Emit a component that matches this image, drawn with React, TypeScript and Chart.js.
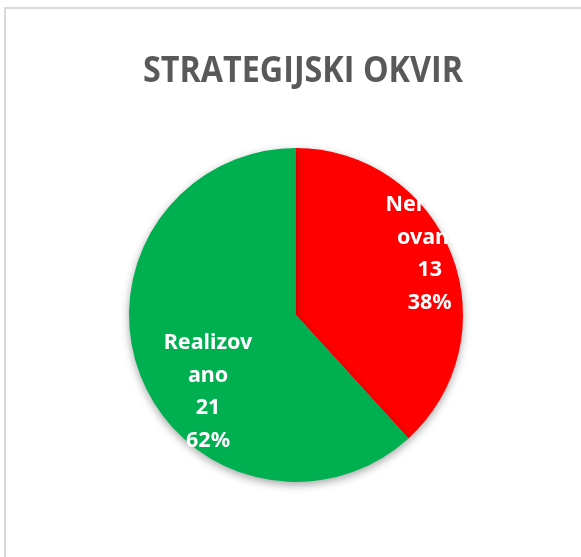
import React, { useEffect, useRef } from "react";
import { Chart, registerables } from "chart.js";

Chart.register(...registerables);

const titleText = "STRATEGIJSKI OKVIR";
const categories = ["Nerealizovano", "Realizovano"];
const values = [13, 21];
const colors = ["#FF0000", "#00B050"];

const TITLE_FONT = "'Open Sans', 'Noto Sans', sans-serif";
const LABEL_FONT = "'Noto Sans', 'Open Sans', sans-serif";

function wrapChars(s: string, n: number): string[] {
  const out: string[] = [];
  for (let i = 0; i < s.length; i += n) out.push(s.slice(i, i + n));
  return out;
}

const shadowPlugin = {
  id: "pieShadow",
  beforeDatasetsDraw(chart: any) {
    const ctx = chart.ctx;
    ctx.save();
    ctx.shadowColor = "rgba(0,0,0,0.35)";
    ctx.shadowBlur = 9;
    ctx.shadowOffsetX = 0;
    ctx.shadowOffsetY = 3;
  },
  afterDatasetsDraw(chart: any) {
    chart.ctx.restore();
  },
};

const labelPlugin = {
  id: "sliceLabels",
  afterDatasetsDraw(chart: any) {
    const ctx = chart.ctx;
    const meta = chart.getDatasetMeta(0);
    const data = chart.data.datasets[0].data as number[];
    const total = data.reduce((a, b) => a + b, 0);
    const place = [
      { t: 0.476, r: 0.88 },
      { t: 0.41, r: 0.7 },
    ];
    meta.data.forEach((arc: any, i: number) => {
      const p = place[i] || { t: 0.5, r: 0.65 };
      const a = arc.startAngle + p.t * (arc.endAngle - arc.startAngle);
      const x = arc.x + arc.outerRadius * p.r * Math.cos(a);
      const y = arc.y + arc.outerRadius * p.r * Math.sin(a);
      const lines = [
        ...wrapChars(String(chart.data.labels[i]), 8),
        String(data[i]),
        Math.round((data[i] / total) * 100) + "%",
      ];
      const lh = 32.5;
      ctx.save();
      ctx.fillStyle = "#FFFFFF";
      ctx.font = `bold 21.5px ${LABEL_FONT}`;
      ctx.textAlign = "center";
      ctx.textBaseline = "middle";
      lines.forEach((ln, k) => {
        ctx.fillText(ln, x, y + (k - (lines.length - 1) / 2) * lh);
      });
      ctx.restore();
    });
  },
};

const titlePlugin = {
  id: "customTitle",
  afterDraw(chart: any) {
    const ctx = chart.ctx;
    ctx.save();
    ctx.fillStyle = "#595959";
    ctx.font = `bold 35px ${TITLE_FONT}`;
    const w = ctx.measureText(titleText).width;
    const sx = 320 / w;
    ctx.textAlign = "center";
    ctx.textBaseline = "alphabetic";
    ctx.translate(303, 82);
    ctx.scale(sx, 1);
    ctx.fillText(titleText, 0, 0);
    ctx.restore();
  },
};

export default function App() {
  const ref = useRef<HTMLCanvasElement | null>(null);
  useEffect(() => {
    if (!ref.current) return;
    const chart = new Chart(ref.current, {
      type: "pie",
      data: {
        labels: categories,
        datasets: [
          {
            data: values,
            backgroundColor: colors,
            borderWidth: 0,
          },
        ],
      },
      options: {
        animation: false,
        responsive: false,
        maintainAspectRatio: false,
        layout: { padding: { left: 129, right: 118, top: 148, bottom: 75 } },
        plugins: {
          legend: { display: false },
          title: { display: false },
          tooltip: { enabled: false },
        },
      },
      plugins: [shadowPlugin, labelPlugin, titlePlugin],
    });
    return () => chart.destroy();
  }, []);
  return (
    <div
      style={{
        position: "fixed",
        left: 0,
        top: 0,
        width: 581,
        height: 557,
        background: "#fff",
        overflow: "hidden",
      }}
    >
      <div
        style={{
          position: "absolute",
          left: 4,
          top: 7,
          width: 620,
          height: 620,
          border: "2px solid #d9d9d9",
        }}
      />
      <canvas
        ref={ref}
        width={581}
        height={557}
        style={{ position: "absolute", left: 0, top: 0, width: 581, height: 557 }}
      />
    </div>
  );
}
